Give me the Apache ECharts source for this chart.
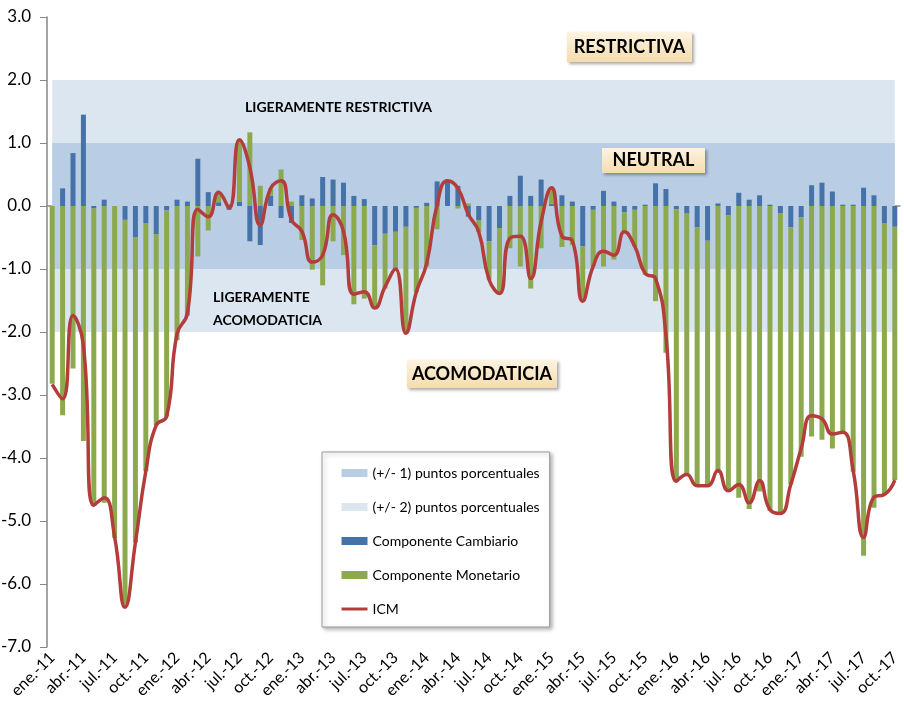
<!DOCTYPE html>
<html>
<head>
<meta charset="utf-8">
<script src="https://cdn.jsdelivr.net/npm/echarts@6/dist/echarts.min.js"></script>
<style>
    html, body { margin: 0; padding: 0; background: #fff; }
    #chart { width: 904px; height: 728px; }
</style>
</head>
<body>
<div id="chart"></div>
<script>
// etiquetas mensuales ene.-11 ... oct.-17
const months = ['ene.', 'feb.', 'mar.', 'abr.', 'may.', 'jun.', 'jul.', 'ago.', 'sep.', 'oct.', 'nov.', 'dic.'];
const years = ['11', '12', '13', '14', '15', '16', '17'];
const categories = [];
years.forEach((yy) => {
    months.forEach((mm, idx) => {
        if (yy === '17' && idx > 9) return;
        categories.push(mm + '-' + yy);
    });
});

// Componente Cambiario
const cambiario = [
    0.00, 0.28, 0.84, 1.45, -0.04, 0.10, 0.00, -0.22, -0.50, -0.27, -0.45, -0.07,
    0.10, 0.07, 0.75, 0.22, 0.06, -0.06, 0.07, -0.56, -0.62, 0.16, -0.19, -0.27,
    0.17, 0.12, 0.46, 0.42, 0.37, 0.16, 0.11, -0.62, -0.44, -0.41, -0.33, -0.03,
    0.05, 0.39, 0.38, 0.32, -0.17, -0.23, -0.56, -0.35, 0.16, 0.48, 0.16, 0.42,
    0.03, 0.17, 0.07, -0.64, -0.06, 0.24, 0.07, -0.10, -0.06, 0.02, 0.36, 0.27,
    -0.05, -0.12, -0.34, -0.55, 0.04, -0.15, 0.21, 0.10, 0.17, 0.02, -0.12, -0.34,
    -0.18, 0.33, 0.37, 0.23, 0.02, 0.02, 0.29, 0.17, -0.27, -0.33
];

// Componente Monetario
const monetario = [
    -2.82, -3.32, -2.58, -3.73, -4.72, -4.71, -5.27, -6.15, -4.84, -3.94, -3.03, -3.27,
    -2.13, -1.74, -0.80, -0.39, 0.16, 0.03, 0.98, 1.17, 0.32, 0.12, 0.58, 0.07,
    -0.54, -1.01, -1.26, -0.56, -0.78, -1.56, -1.47, -1.00, -0.87, -0.60, -1.69, -1.34,
    -0.96, -0.37, 0.02, -0.04, 0.04, -0.18, -0.61, -1.04, -0.67, -0.96, -1.31, -0.67,
    0.26, -0.65, -0.62, -0.87, -0.90, -0.96, -0.85, -0.31, -0.58, -1.09, -1.51, -2.33,
    -4.32, -4.14, -4.10, -3.89, -4.24, -4.37, -4.63, -4.81, -4.53, -4.84, -4.76, -4.08,
    -3.80, -3.66, -3.71, -3.85, -3.61, -4.22, -5.55, -4.79, -4.31, -4.02
];

// ICM
const icm = [
    -2.83, -3.06, -1.74, -2.21, -4.75, -4.63, -5.25, -6.37, -5.34, -4.21, -3.48, -3.34,
    -2.03, -1.70, -0.05, -0.17, 0.22, -0.03, 1.05, 0.61, -0.30, 0.28, 0.40, -0.22,
    -0.40, -0.89, -0.78, -0.14, -0.40, -1.40, -1.36, -1.62, -1.28, -1.00, -2.02, -1.37,
    -0.91, 0.02, 0.40, 0.28, -0.13, -0.41, -1.17, -1.39, -0.51, -0.48, -1.15, -0.25,
    0.29, -0.48, -0.55, -1.51, -0.96, -0.72, -0.78, -0.41, -0.64, -1.07, -1.15, -2.06,
    -4.37, -4.26, -4.44, -4.44, -4.20, -4.52, -4.42, -4.71, -4.36, -4.82, -4.88, -4.42,
    -3.85, -3.33, -3.38, -3.62, -3.59, -4.20, -5.26, -4.62, -4.58, -4.35
];

// bandas
const bandInner = [-1, 1];
const bandOuter = [-2, 2];

const names = {
    b1: '(+/- 1) puntos porcentuales',
    b2: '(+/- 2) puntos porcentuales',
    camb: 'Componente Cambiario',
    mon: 'Componente Monetario',
    icm: 'ICM',
};

const FONT = 'Lato, "Open Sans", sans-serif';

// caja con degradado para las etiquetas de zona
function zoneBox(x, y, w, h, text) {
    return {
        type: 'group',
        left: x,
        top: y,
        z: 100,
        children: [
            {
                type: 'rect',
                z: 100,
                shape: { width: w, height: h },
                style: {
                    fill: new echarts.graphic.LinearGradient(0, 0, 0, 1, [
                        { offset: 0, color: '#FDF3E0' },
                        { offset: 1, color: '#F4DCAE' },
                    ]),
                    shadowBlur: 3,
                    shadowOffsetX: 2,
                    shadowOffsetY: 2,
                    shadowColor: 'rgba(0,0,0,0.35)',
                },
            },
            {
                type: 'text',
                z: 101,
                style: {
                    text: text,
                    x: w / 2,
                    y: h / 2,
                    align: 'center',
                    verticalAlign: 'middle',
                    font: 'bold 18px ' + FONT,
                    fill: '#000',
                },
            },
        ],
    };
}

const chart = echarts.init(document.getElementById('chart'));

const option = {
    animation: false,
    textStyle: { fontFamily: FONT },
    grid: {
        left: 47,
        right: 4,
        top: 17,
        bottom: 81,
        outerBoundsMode: 'none',
    },
    legend: {
        orient: 'vertical',
        left: 322,
        top: 452,
        padding: [11, 10, 8, 18],
        itemGap: 14,
        itemWidth: 26,
        itemHeight: 8,
        backgroundColor: '#fff',
        borderColor: '#9a9a9a',
        borderWidth: 1,
        shadowBlur: 4,
        shadowOffsetX: 2,
        shadowOffsetY: 2,
        shadowColor: 'rgba(0,0,0,0.3)',
        textStyle: { fontSize: 14, color: '#000', lineHeight: 20, fontFamily: FONT },
        data: [
            { name: names.b1, icon: 'rect' },
            { name: names.b2, icon: 'rect' },
            { name: names.camb, icon: 'rect' },
            { name: names.mon, icon: 'rect' },
            {
                name: names.icm,
                itemStyle: { opacity: 0 },
                lineStyle: { width: 3, color: '#B33D3B', opacity: 1 },
            },
        ],
    },
    xAxis: [
        {
            type: 'category',
            data: categories,
            position: 'bottom',
            axisLine: { show: false, onZero: false },
            axisTick: { show: false },
            axisLabel: {
                interval: 2,
                rotate: 45,
                margin: 8,
                fontSize: 16,
                color: '#000',
                fontFamily: FONT,
            },
        },
        {
            type: 'category',
            data: categories,
            position: 'bottom',
            axisLine: { onZero: true, lineStyle: { color: '#8c8c8c', width: 1.5 } },
            axisTick: { interval: 2, length: 5, lineStyle: { color: '#8c8c8c' } },
            axisLabel: { show: false },
        },
    ],
    yAxis: {
        type: 'value',
        min: -7,
        max: 3,
        interval: 1,
        axisLine: { show: true, lineStyle: { color: '#868686', width: 1.5 } },
        axisTick: { show: true, length: 7, lineStyle: { color: '#868686' } },
        splitLine: { show: false },
        axisLabel: {
            margin: 16,
            fontSize: 17,
            color: '#000',
            fontFamily: FONT,
            formatter: (v) => v.toFixed(1),
        },
    },
    series: [
        {
            name: names.b2,
            type: 'line',
            data: [],
            z: 1,
            color: '#DCE6F1',
            markArea: {
                silent: true,
                itemStyle: { color: '#DCE6F1' },
                data: [[
                    { xAxis: categories[0], yAxis: bandOuter[0] },
                    { xAxis: categories[categories.length - 1], yAxis: bandOuter[1] },
                ]],
            },
        },
        {
            name: names.b1,
            type: 'line',
            data: [],
            z: 1,
            color: '#B9CDE5',
            markArea: {
                silent: true,
                itemStyle: { color: '#B9CDE5' },
                data: [[
                    { xAxis: categories[0], yAxis: bandInner[0] },
                    { xAxis: categories[categories.length - 1], yAxis: bandInner[1] },
                ]],
            },
        },
        {
            name: names.camb,
            type: 'bar',
            stack: 'icm',
            barWidth: '48%',
            z: 2,
            color: '#4572A8',
            data: cambiario,
        },
        {
            name: names.mon,
            type: 'bar',
            stack: 'icm',
            barWidth: '48%',
            z: 2,
            color: '#8CA94E',
            data: monetario,
        },
        {
            name: names.icm,
            type: 'line',
            z: 3,
            smooth: true,
            symbol: 'none',
            showSymbol: false,
            color: '#B33D3B',
            lineStyle: { width: 3.5, color: '#B33D3B' },
            data: icm,
        },
    ],
    graphic: [
        zoneBox(567, 32, 125, 30, 'RESTRICTIVA'),
        zoneBox(602, 148, 103, 25, 'NEUTRAL'),
        zoneBox(407, 360, 150, 28, 'ACOMODATICIA'),
        {
            type: 'text',
            left: 245,
            top: 100,
            z: 100,
            style: { text: 'LIGERAMENTE RESTRICTIVA', font: 'bold 14px ' + FONT, fill: '#000' },
        },
        {
            type: 'text',
            left: 213,
            top: 286,
            z: 100,
            style: {
                text: 'LIGERAMENTE\nACOMODATICIA',
                font: 'bold 14px ' + FONT,
                lineHeight: 23,
                fill: '#000',
            },
        },
    ],
};

chart.setOption(option);
</script>
</body>
</html>
